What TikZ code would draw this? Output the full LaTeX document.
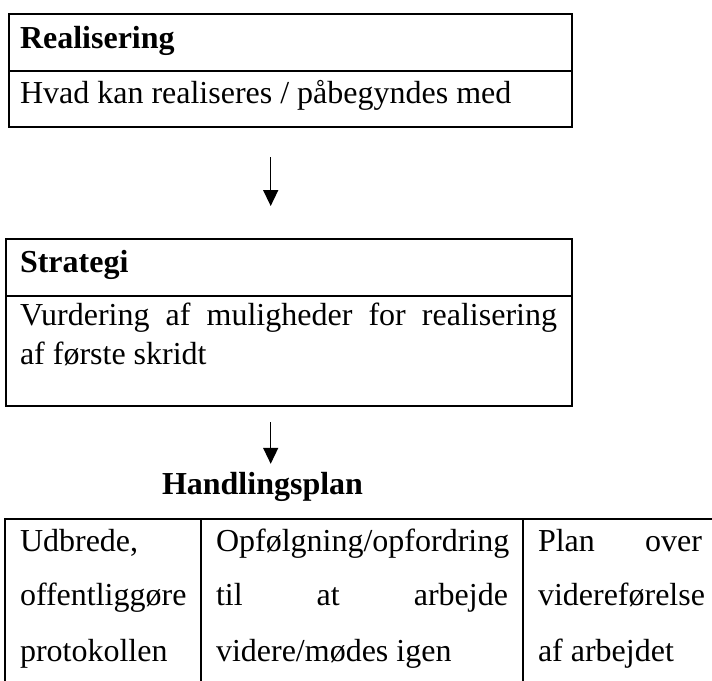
\documentclass[tikz,border=0pt]{standalone}
\usepackage{fontspec}
\setmainfont{Liberation Serif}
\usetikzlibrary{arrows.meta}
\begin{document}
\begin{tikzpicture}[x=1pt,y=-1pt,
  cell/.style={draw, line width=2.2pt, inner sep=0pt, outer sep=0pt, anchor=north west},
  txt/.style={anchor=base west, inner sep=0pt, outer sep=0pt, font=\fontsize{32}{38}\selectfont},
  btxt/.style={txt, font=\fontsize{32}{38}\selectfont\bfseries},
  arr/.style={-{Triangle[length=16pt,width=15pt]}, line width=1.5pt}]
\useasboundingbox (0,0) rectangle (712,680);
\clip (0,0) rectangle (712,680);
\fill[white] (0,0) rectangle (712,680);

% Box 1
\node[cell, minimum width=563pt, minimum height=57pt] (realhead) at (9,14) {};
\node[cell, minimum width=563pt, minimum height=55.7pt] (realbody) at (9,71) {};
\node[btxt] (t1) at (20,48) {Realisering};
\node[txt] (t2) at (20,103) {Hvad kan realiseres / påbegyndes med};

% Box 2
\node[cell, minimum width=566.3pt, minimum height=57pt] (strathead) at (5.7,239) {};
\node[cell, minimum width=566.3pt, minimum height=110pt] (stratbody) at (5.7,296) {};
\node[btxt] (t3) at (20,272) {Strategi};
\node[txt] (t4) at (20,325) {\makebox[537pt][s]{Vurdering af muligheder for realisering}};
\node[txt] (t5) at (20,364) {af første skridt};

% Title
\node[btxt, anchor=base east] (plan) at (363,494) {Handlingsplan};

% Table
\node[cell, minimum width=196.3pt, minimum height=200pt] (c1) at (4.7,519) {};
\node[cell, minimum width=321.7pt, minimum height=200pt] (c2) at (201,519) {};
\node[cell, minimum width=220pt, minimum height=200pt] (c3) at (522.7,519) {};

\node[txt] (u1) at (20,551) {Udbrede,};
\node[txt] (u2) at (20,605) {offentliggøre};
\node[txt] (u3) at (20,661) {protokollen};

\node[txt] (o1) at (216,551) {Opfølgning/opfordring};
\node[txt] (o2) at (216,605) {\makebox[292pt][s]{til at arbejde}};
\node[txt] (o3) at (216,661) {videre/mødes igen};

\node[txt] (p1) at (538,551) {\makebox[164pt][s]{Plan over}};
\node[txt] (p2) at (538,605) {videreførelse};
\node[txt] (p3) at (538,661) {af arbejdet};

% Arrows
\coordinate (ax) at (270.7,0);
\draw[arr, shorten <=30.3pt, shorten >=33pt] (realbody.south -| ax) -- (strathead.north -| ax);
\draw[arr, shorten <=16pt, shorten >=8pt] (stratbody.south -| ax) -- (plan.north -| ax);
\end{tikzpicture}
\end{document}
